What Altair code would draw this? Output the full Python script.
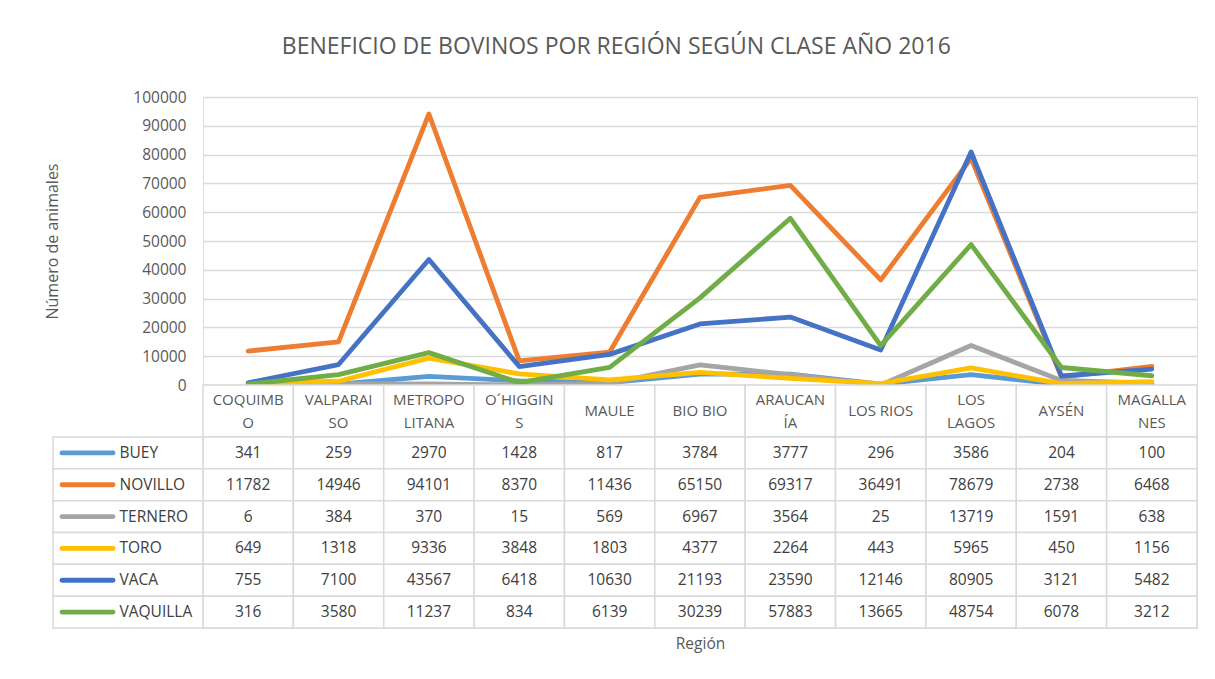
import altair as alt
import pandas as pd

REGIONS = ["COQUIMBO", "VALPARAISO", "METROPOLITANA", "O´HIGGINS", "MAULE", "BIO BIO",
           "ARAUCANÍA", "LOS RIOS", "LOS LAGOS", "AYSÉN", "MAGALLANES"]
HEADER = ["COQUIMB\nO", "VALPARAI\nSO", "METROPO\nLITANA", "O´HIGGIN\nS", "MAULE", "BIO BIO",
          "ARAUCAN\nÍA", "LOS RIOS", "LOS\nLAGOS", "AYSÉN", "MAGALLA\nNES"]
SERIES = ["BUEY", "NOVILLO", "TERNERO", "TORO", "VACA", "VAQUILLA"]
COLORS = ["#5B9BD5", "#ED7D31", "#A5A5A5", "#FFC000", "#4472C4", "#70AD47"]

BUEY = [341, 259, 2970, 1428, 817, 3784, 3777, 296, 3586, 204, 100]
NOVILLO = [11782, 14946, 94101, 8370, 11436, 65150, 69317, 36491, 78679, 2738, 6468]
TERNERO = [6, 384, 370, 15, 569, 6967, 3564, 25, 13719, 1591, 638]
TORO = [649, 1318, 9336, 3848, 1803, 4377, 2264, 443, 5965, 450, 1156]
VACA = [755, 7100, 43567, 6418, 10630, 21193, 23590, 12146, 80905, 3121, 5482]
VAQUILLA = [316, 3580, 11237, 834, 6139, 30239, 57883, 13665, 48754, 6078, 3212]

Y_TICKS = list(range(0, 100001, 10000))

rows = []
for name, vals in zip(SERIES, [BUEY, NOVILLO, TERNERO, TORO, VACA, VAQUILLA]):
    for r, v in zip(REGIONS, vals):
        rows.append({"series": name, "region": r, "value": v})
df = pd.DataFrame(rows)
hdr_df = pd.DataFrame({"region": REGIONS, "label": HEADER})
hdr_df["two"] = hdr_df["label"].str.contains("\n")
ser_df = pd.DataFrame({"series": SERIES})

FONT = "Open Sans"
GRID = "#D9D9D9"
TXT = "#595959"
TBL = "#404040"
W = 994

color = alt.Color("series:N", scale=alt.Scale(domain=SERIES, range=COLORS), legend=None)

lines = alt.Chart(df).mark_line(strokeWidth=4.8, strokeCap="round", strokeJoin="round").encode(
    x=alt.X("region:N", sort=REGIONS,
            scale=alt.Scale(type="point", domain=REGIONS, padding=0.5), axis=None),
    y=alt.Y("value:Q", scale=alt.Scale(domain=[0, 100000], nice=False),
            axis=alt.Axis(values=Y_TICKS, format="d", title="Número de animales",
                          domain=False, ticks=False, gridColor=GRID, gridWidth=1.5,
                          labelFont=FONT, labelFontSize=15.5, labelColor=TXT, labelPadding=17,
                          titleFont=FONT, titleFontSize=16, titleFontWeight="normal",
                          titleColor=TXT, titlePadding=72)),
    color=color,
).properties(width=W, height=288)

band_x = alt.X("region:N", sort=REGIONS,
               scale=alt.Scale(domain=REGIONS, paddingInner=0, paddingOuter=0), axis=None)

header = alt.layer(
    alt.Chart(hdr_df).mark_rect(fill="white", stroke=GRID, strokeWidth=1.5).encode(x=band_x),
    alt.Chart(hdr_df).transform_filter("!datum.two").mark_text(
        font=FONT, fontSize=15, color=TXT, baseline="middle").encode(x=band_x, text="label:N"),
    alt.Chart(hdr_df).transform_filter("datum.two").mark_text(
        lineBreak="\n", font=FONT, fontSize=15, color=TXT, lineHeight=22.5,
        baseline="middle", dy=-11).encode(x=band_x, text="label:N"),
).properties(width=W, height=52)

body_x = alt.X("region:N", sort=REGIONS,
               scale=alt.Scale(domain=REGIONS, paddingInner=0, paddingOuter=0),
               axis=alt.Axis(labels=False, ticks=False, domain=False, title="Región",
                             titleFont=FONT, titleFontSize=15.5, titleFontWeight="normal",
                             titleColor=TXT, titlePadding=8, titleX=497))
y_axis = alt.Axis(title=None, domain=False, ticks=False, labelAlign="left",
                  labelPadding=84, labelFont=FONT, labelFontSize=15.5, labelColor=TBL)
y_scale = alt.Scale(domain=SERIES, paddingInner=0, paddingOuter=0)
body_y = alt.Y("series:N", sort=SERIES, scale=y_scale, axis=y_axis)

body = alt.layer(
    alt.Chart(df).mark_rect(fill="white", stroke=GRID, strokeWidth=1.5).encode(x=body_x, y=body_y),
    alt.Chart(ser_df).mark_rect(fill="white", stroke=GRID, strokeWidth=1.5).encode(
        x=alt.value(-150), x2=alt.value(0), y=body_y),
    alt.Chart(ser_df).mark_rule(strokeWidth=4.8, strokeCap="round").encode(
        x=alt.value(-141), x2=alt.value(-90),
        y=alt.Y("series:N", sort=SERIES, bandPosition=0.5, scale=y_scale, axis=y_axis),
        color=color),
    alt.Chart(df).mark_text(font=FONT, fontSize=15.5, color=TBL, baseline="middle").encode(
        x=body_x, y=body_y, text="value:Q"),
).properties(width=W, height=191)

chart = alt.vconcat(lines, header, body, spacing=0, bounds="flush").properties(
    title=alt.TitleParams("BENEFICIO DE BOVINOS POR REGIÓN SEGÚN CLASE AÑO 2016",
                          font=FONT, fontSize=23, fontWeight="normal", color=TXT,
                          anchor="middle", offset=31, dx=-5),
    padding={"left": 36, "top": 27, "right": 5, "bottom": 5},
).configure_view(stroke=None).configure(background="white")

chart.save("out.html", embed_options={"renderer": "svg", "actions": False})
